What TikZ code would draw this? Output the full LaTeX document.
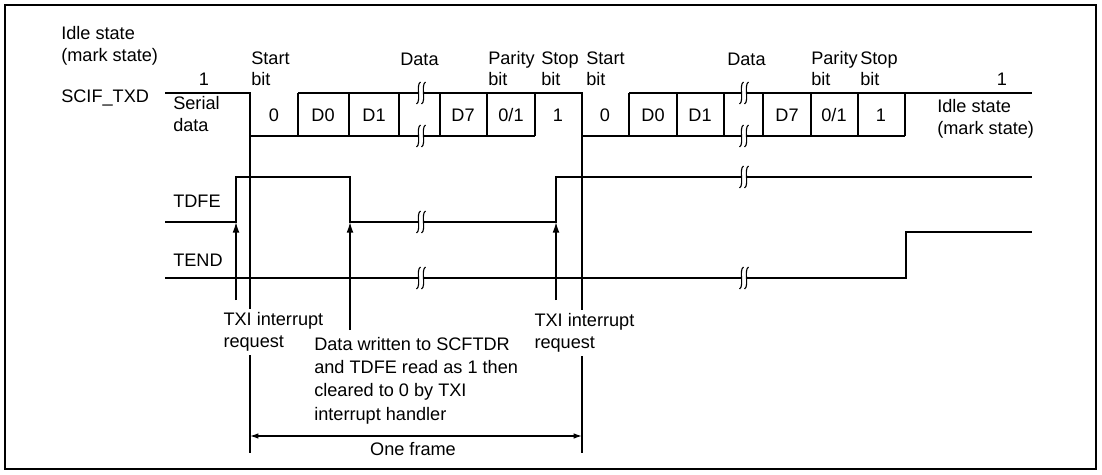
\documentclass[tikz,border=0pt]{standalone}
\usepackage{fontspec}
\setmainfont{Liberation Sans}
\usetikzlibrary{arrows.meta}

\begin{document}
\begin{tikzpicture}[
  x=0.025cm, y=-0.025cm,
  font=\fontsize{12.9}{15}\selectfont,
  sig/.style={line width=1.4pt},
  guide/.style={line width=1pt},
  evt/.style={line width=1pt, -{Latex[length=7.5pt, width=4.8pt]}},
  frm/.style={line width=0.9pt, {Latex[length=6pt, width=4pt]}-{Latex[length=6pt, width=4pt]}},
  lbl/.style={anchor=base west, inner sep=0pt, align=left},
  bitv/.style={anchor=base, inner sep=0pt},
  brk/.pic={
    \fill[white] (-2.5,-2.4) rectangle (2.5,2.4);
    \foreach \d in {-2.5,2.5}
      \draw[line width=0.8pt] (\d+2,-11) .. controls (\d-3,-8) and (\d+3,8) .. (\d-2,11);
  }
]
\useasboundingbox (0,0) rectangle (1102,474);
\draw[line width=1.4pt] (5,5) rectangle (1096,469);

% points the arrows and guides run to
\coordinate (riseA) at (236,222);
\coordinate (fallA) at (350,222);
\coordinate (riseB) at (556,222);
\coordinate (tailA) at (236,300);
\coordinate (tailB) at (350,330);
\coordinate (tailC) at (556,300);
\coordinate (gLtop) at (250,136);
\coordinate (gLbot) at (250,453);
\coordinate (gRtop) at (582,136);
\coordinate (gRbot) at (582,453);
\coordinate (frmL) at (250,436);
\coordinate (frmR) at (582,436);

% SCIF_TXD serial data
\draw[sig] (165,93) -- (250,93) -- (250,136) -- (535,136);
\draw[sig] (298,93) -- (582,93) -- (582,136) -- (905,136);
\draw[sig] (629,93) -- (1032,93);
\foreach \x in {298,349,399,440,487,535,629,677,724,763,811,858,905}
  \draw[sig] (\x,93) -- (\x,136);

% TDFE and TEND
\draw[sig] (165,222) -- (236,222) -- (236,177) -- (350,177) -- (350,222)
  -- (556,222) -- (556,177) -- (1032,177);
\draw[sig] (165,278) -- (906,278) -- (906,232) -- (1032,232);

% breaks
\foreach \x in {421,744} {
  \pic at (\x,93) {brk};
  \pic at (\x,136) {brk};
  \pic at (\x,278) {brk};
}
\pic at (421,222) {brk};
\pic at (744,177) {brk};

% frame guides, events, frame length
\draw[guide] (gLtop) -- (gLbot);
\draw[guide] (gRtop) -- (gRbot);
\draw[evt] (tailA) -- (riseA);
\draw[evt] (tailB) -- (fallA);
\draw[evt] (tailC) -- (riseB);
\draw[frm] (frmL) -- (frmR);

% multi-line labels sit on the baseline of their last line
\node[lbl] (idleL) at (61,61) {Idle state\\(mark state)};
\node[bitv] (oneL) at (204,85) {1};
\node[lbl] (txd) at (61,102) {SCIF\_TXD};
\node[lbl] (serial) at (173,131) {Serial\\data};
\node[lbl] (startA) at (251,85.5) {Start\\bit};
\node[lbl] (dataA) at (400,65) {Data};
\node[lbl] (parA) at (488,85.5) {Parity\\bit};
\node[lbl] (stopA) at (541,85.5) {Stop\\bit};
\node[lbl] (startB) at (586,85.5) {Start\\bit};
\node[lbl] (dataB) at (727,65) {Data};
\node[lbl] (parB) at (811,85.5) {Parity\\bit};
\node[lbl] (stopB) at (860,85.5) {Stop\\bit};
\node[bitv] (oneR) at (1002,85) {1};
\node[lbl] (idleR) at (937,134) {Idle state\\(mark state)};

\foreach \x/\t [count=\i] in {274/0, 323/D0, 374/D1, 463/D7, 511/{0/1}, 558/1,
    605/0, 653/D0, 700/D1, 787/D7, 834/{0/1}, 881/1}
  \node[bitv] (bit\i) at (\x,121) {\t};

\node[lbl] (tdfe) at (173,207) {TDFE};
\node[lbl] (tend) at (173,266) {TEND};

\node[lbl, fill=white, inner sep=3pt] (txiA) at (219,347) {TXI interrupt\\request};
\node[lbl, fill=white, inner sep=3pt] (txiB) at (530,348) {TXI interrupt\\request};
\node[lbl, font=\fontsize{12.9}{16.5}\selectfont] (note) at (314,420)
  {Data written to SCFTDR\\and TDFE read as 1 then\\cleared to 0 by TXI\\interrupt handler};
\node[bitv] (oneframe) at (413,455) {One frame};
\end{tikzpicture}
\end{document}
